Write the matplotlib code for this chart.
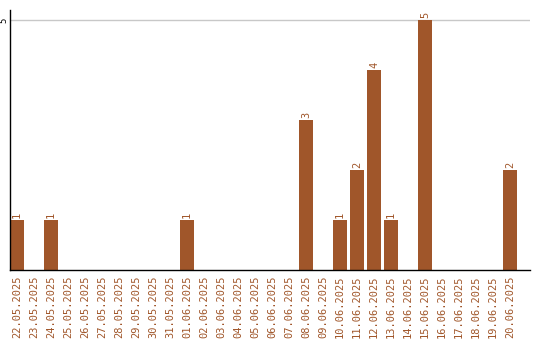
import matplotlib
matplotlib.use("Agg")
import matplotlib.pyplot as plt
import numpy as np

dates = [
    "22.05.2025", "23.05.2025", "24.05.2025", "25.05.2025", "26.05.2025",
    "27.05.2025", "28.05.2025", "29.05.2025", "30.05.2025", "31.05.2025",
    "01.06.2025", "02.06.2025", "03.06.2025", "04.06.2025", "05.06.2025",
    "06.06.2025", "07.06.2025", "08.06.2025", "09.06.2025", "10.06.2025",
    "11.06.2025", "12.06.2025", "13.06.2025", "14.06.2025", "15.06.2025",
    "16.06.2025", "17.06.2025", "18.06.2025", "19.06.2025", "20.06.2025",
]
counts = [1, 0, 1, 0, 0, 0, 0, 0, 0, 0,
          1, 0, 0, 0, 0, 0, 0, 3, 0, 1,
          2, 4, 1, 0, 5, 0, 0, 0, 0, 2]

color = "#a0562a"
plt.rcParams["font.family"] = "DejaVu Sans Mono"

fig = plt.figure(figsize=(5.4, 3.4), dpi=100)
ax = fig.add_axes([10 / 540, 70 / 340, 520 / 540, 260 / 340])

x = np.arange(len(dates))
ax.bar(x, counts, width=14 / 17, color=color, zorder=2)
for xi, v in zip(x, counts):
    if v > 0:
        ax.text(xi, v + 0.04, str(v), rotation=90, ha="center", va="bottom",
                color=color, fontsize=7.5)

ax.set_xlim(-7 / 17, 30.18)
ax.set_ylim(0, 5.2)
ax.set_xticks(x)
ax.set_xticklabels(dates, rotation=90, color=color, fontsize=7.5)
ax.set_yticks([5])
ax.set_yticklabels(["5"], rotation=90, va="center", fontsize=6.5)
ax.tick_params(axis="x", length=0, pad=4)
ax.tick_params(axis="y", length=0, pad=1)
ax.yaxis.grid(True, color="#c8c8c8", linewidth=1, zorder=0)
for s in ["top", "right"]:
    ax.spines[s].set_visible(False)
for s in ["left", "bottom"]:
    ax.spines[s].set_color("black")
    ax.spines[s].set_linewidth(1)

fig.savefig("out.png", dpi=100)
